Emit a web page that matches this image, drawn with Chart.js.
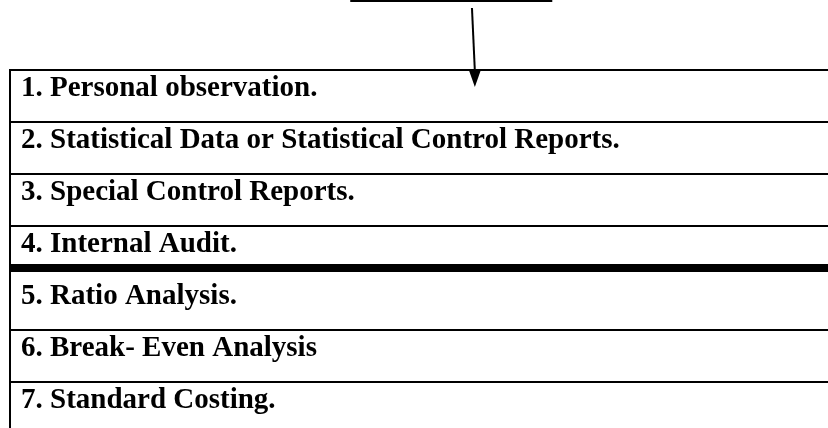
<!DOCTYPE html>
<html>
<head>
<meta charset="utf-8">
<script src="https://cdn.jsdelivr.net/npm/chart.js@4"></script>
<style>
    html, body { margin: 0; padding: 0; background: #fff; overflow: hidden; }
    /* list runs past the bottom edge of the picture, like the original */
    #wrap { width: 828px; height: 434px; position: relative; }
</style>
</head>
<body>
<div id="wrap"><canvas id="tools"></canvas></div>
<script>
// ── Techniques of control: list of items, one row each ─────────────────────

const items = [
    "1. Personal observation.",
    "2. Statistical Data or Statistical Control Reports.",
    "3. Special Control Reports.",
    "4. Internal Audit.",
    "5. Ratio Analysis.",
    "6. Break- Even Analysis",
    "7. Standard Costing.",
];

// row whose top edge gets the heavy separator
const heavyRow = 4;

// box above the list (only its bottom edge is visible), the arrow down,
// and the heavy rule (in the original it sits a bit high, inside row 4)
const connector = {
    id: "connector",
    afterDraw(chart) {
        const { ctx, chartArea } = chart;
        const y = chart.scales.y;
        const w = chart.width;
        ctx.save();
        ctx.strokeStyle = "#000";
        ctx.fillStyle = "#000";

        const c3 = y.getPixelForTick(heavyRow - 1);
        const c4 = y.getPixelForTick(heavyRow);
        const ruleY = (c3 + c4) / 2 - (c4 - c3) * 0.19;
        ctx.lineWidth = 8;
        ctx.beginPath();
        ctx.moveTo(chartArea.left - 1, ruleY);
        ctx.lineTo(chartArea.right, ruleY);
        ctx.stroke();

        ctx.lineWidth = 2;
        // bottom edge of the box above
        ctx.beginPath();
        ctx.moveTo(w * 0.423, 1);
        ctx.lineTo(w * 0.667, 1);
        ctx.stroke();
        // arrow shaft
        const x0 = w * 0.570, x1 = w * 0.5735;
        const tipY = chartArea.top + 17;
        ctx.beginPath();
        ctx.moveTo(x0, 8);
        ctx.lineTo(x1, chartArea.top + 1);
        ctx.stroke();
        // arrow head
        ctx.beginPath();
        ctx.moveTo(x1 - 6, chartArea.top);
        ctx.lineTo(x1 + 6, chartArea.top);
        ctx.lineTo(x1, tipY);
        ctx.closePath();
        ctx.fill();
        ctx.restore();
    },
};

new Chart(document.getElementById("tools"), {
    type: "bar",
    data: {
        labels: items,
        datasets: [],
    },
    options: {
        indexAxis: "y",
        responsive: true,
        maintainAspectRatio: false,
        animation: false,
        layout: { padding: { top: 70, left: 10, right: 0, bottom: 0 } },
        plugins: {
            legend: { display: false },
            tooltip: { enabled: false },
        },
        scales: {
            x: { display: false },
            y: {
                type: "category",
                offset: true,
                // labels sit inside the rows, so the axis takes no room
                afterFit: function (scale) {
                    scale.width = 0;
                    scale.paddingTop = 0;
                    scale.paddingBottom = 0;
                },
                grid: {
                    offset: true,
                    drawTicks: false,
                    color: function (c) {
                        if (c.index === undefined || c.index === heavyRow) return "rgba(0,0,0,0)";
                        return "#000";
                    },
                    lineWidth: 2,
                },
                border: { display: true, color: "#000", width: 2 },
                ticks: {
                    mirror: true,
                    padding: 11,
                    labelOffset: -7,
                    color: "#000",
                    font: { family: "'Liberation Serif', 'Times New Roman', serif", size: 29, weight: "bold" },
                },
            },
        },
    },
    plugins: [connector],
});
</script>
</body>
</html>
